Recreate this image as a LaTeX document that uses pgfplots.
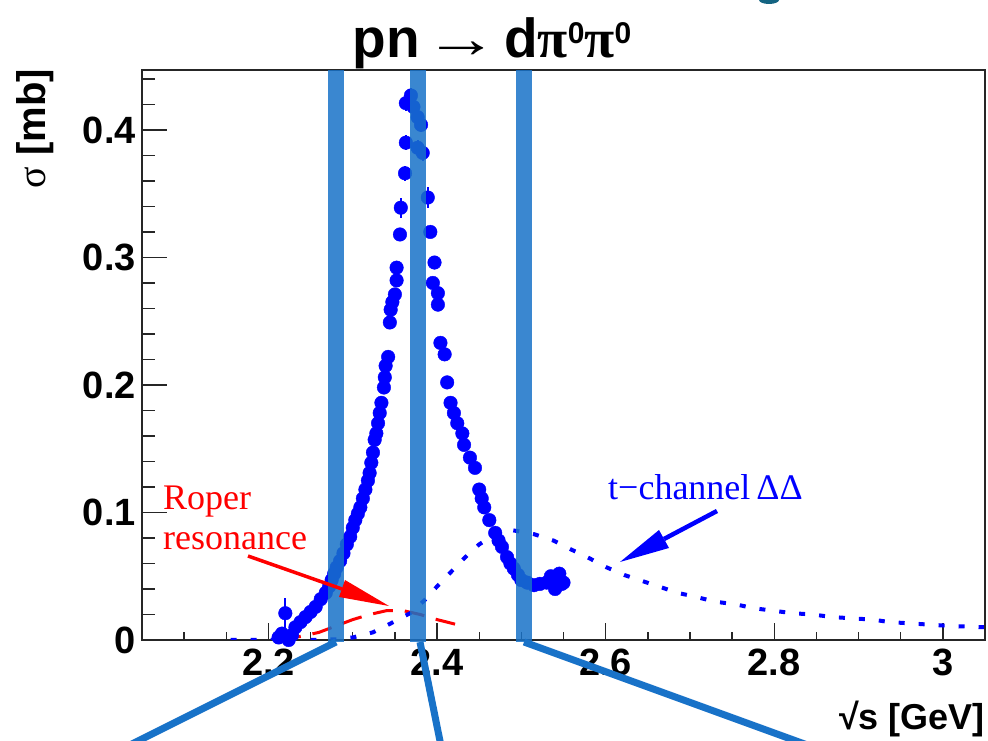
\documentclass[border=0pt]{standalone}
\usepackage{pgfplots}
\usepackage{pgfplotstable}
\pgfplotsset{compat=1.18}
\usepackage{fontspec}
\setmainfont{Liberation Sans}
\newfontfamily\serif{Liberation Serif}
\definecolor{mblue}{RGB}{0,0,255}
\definecolor{mred}{RGB}{255,0,0}
\definecolor{barblue}{RGB}{24,114,200}
\definecolor{tealc}{RGB}{20,100,130}

\pgfplotstableread{
x y e
2.212 0.002 0.003
2.216 0.005 0.003
2.220 0.021 0.012
2.224 0.000 0.003
2.228 0.004 0.003
2.232 0.010 0.003
2.238 0.014 0.003
2.244 0.018 0.003
2.250 0.022 0.003
2.256 0.026 0.003
2.262 0.032 0.003
2.268 0.037 0.003
2.272 0.042 0.003
2.275 0.047 0.003
2.278 0.052 0.003
2.281 0.057 0.003
2.285 0.062 0.003
2.289 0.068 0.003
2.293 0.075 0.003
2.297 0.081 0.003
2.300 0.088 0.003
2.303 0.094 0.003
2.306 0.099 0.003
2.309 0.104 0.003
2.312 0.111 0.003
2.315 0.118 0.003
2.318 0.125 0.003
2.320 0.131 0.003
2.322 0.139 0.003
2.324 0.147 0.003
2.326 0.157 0.003
2.328 0.162 0.003
2.330 0.170 0.003
2.332 0.178 0.003
2.334 0.186 0.004
2.337 0.198 0.004
2.338 0.206 0.004
2.339 0.215 0.004
2.342 0.222 0.004
2.344 0.249 0.004
2.345 0.259 0.004
2.347 0.265 0.004
2.350 0.271 0.004
2.352 0.282 0.004
2.352 0.292 0.005
2.356 0.318 0.005
2.357 0.339 0.008
2.362 0.366 0.006
2.363 0.390 0.006
2.363 0.421 0.006
2.369 0.427 0.006
2.372 0.418 0.006
2.377 0.410 0.006
2.381 0.404 0.006
2.377 0.386 0.006
2.383 0.382 0.006
2.389 0.347 0.008
2.392 0.320 0.005
2.397 0.296 0.005
2.395 0.280 0.005
2.401 0.272 0.005
2.401 0.263 0.005
2.404 0.233 0.004
2.409 0.224 0.004
2.412 0.202 0.004
2.416 0.186 0.004
2.420 0.178 0.004
2.424 0.170 0.004
2.430 0.162 0.004
2.432 0.153 0.004
2.439 0.143 0.003
2.445 0.135 0.003
2.450 0.118 0.003
2.453 0.111 0.003
2.456 0.104 0.003
2.462 0.094 0.003
2.469 0.084 0.003
2.473 0.078 0.003
2.477 0.073 0.003
2.483 0.065 0.003
2.487 0.060 0.003
2.491 0.056 0.003
2.496 0.051 0.003
2.500 0.047 0.003
2.507 0.045 0.003
2.515 0.043 0.003
2.522 0.044 0.003
2.530 0.045 0.003
2.535 0.050 0.003
2.537 0.048 0.003
2.540 0.040 0.003
2.542 0.050 0.004
2.545 0.052 0.003
2.546 0.046 0.003
2.548 0.044 0.003
2.550 0.045 0.003
}\datatable

\pgfplotstableread{
x y
2.215 0.000
2.240 0.003
2.260 0.006
2.280 0.011
2.300 0.016
2.320 0.020
2.340 0.023
2.360 0.023
2.380 0.020
2.400 0.016
2.430 0.011
}\ropertable

\pgfplotstableread{
x y
2.155 0.000
2.190 0.000
2.250 0.000
2.280 0.0005
2.300 0.002
2.324 0.006
2.345 0.013
2.368 0.021
2.385 0.031
2.400 0.042
2.416 0.053
2.432 0.064
2.450 0.075
2.470 0.083
2.490 0.086
2.515 0.083
2.538 0.078
2.559 0.071
2.581 0.064
2.601 0.057
2.622 0.051
2.640 0.047
2.663 0.042
2.685 0.037
2.706 0.034
2.730 0.030
2.754 0.028
2.775 0.025
2.798 0.023
2.822 0.021
2.845 0.020
2.869 0.018
2.892 0.017
2.916 0.016
2.938 0.014
2.962 0.013
2.985 0.012
3.009 0.011
3.050 0.010
}\ttable

\begin{document}
\begin{tikzpicture}
\path[use as bounding box] (0,0) rectangle (988bp,741bp);

\pgfplotsset{common/.style={
  at={(142bp,101bp)}, anchor=south west, scale only axis,
  width=843bp, height=570bp,
  xmin=2.05, xmax=3.05, ymin=0, ymax=0.447,
  axis line style={line width=1.6bp, black!85},
  tick style={line width=1.4bp, black!85},
  tick align=inside,
  /pgf/number format/assume math mode=true,
  ticklabel style={font=\fontsize{38bp}{40bp}\selectfont\bfseries, inner sep=0pt},
}}

\begin{axis}[common,
  xtick={2.2,2.4,2.6,2.8,3.0},
  minor xtick={2.1,2.15,2.25,2.3,2.35,2.45,2.5,2.55,2.65,2.7,2.75,2.85,2.9,2.95,3.05},
  ytick=\empty,
  xtick pos=left,
  major tick length=17bp, minor tick length=8bp,
  xticklabel style={yshift=-9bp},
]
\addplot[mred, line width=3bp, dash pattern=on 20bp off 12bp] table[x=x,y=y] {\ropertable};
\addplot[mblue, line width=4bp, dash pattern=on 6bp off 14bp] table[x=x,y=y] {\ttable};
\addplot[only marks, mark=*, mark size=6.8bp, color=mblue,
  error bars/.cd, y dir=both, y explicit, error mark=none,
  error bar style={line width=2bp, mblue}]
  table[x=x,y=y,y error=e] {\datatable};
\end{axis}

\begin{axis}[common,
  hide x axis,
  ytick={0,0.1,0.2,0.3,0.4},
  minor ytick={0.02,0.04,0.06,0.08,0.12,0.14,0.16,0.18,0.22,0.24,0.26,0.28,0.32,0.34,0.36,0.38,0.42,0.44},
  ytick pos=left,
  major tick length=25bp, minor tick length=13bp,
  yticklabel style={xshift=-6bp},
]
\end{axis}

% overlay bars and lines
\fill[barblue, opacity=0.85] (328bp,671bp) rectangle (344bp,99bp);
\fill[barblue, opacity=0.85] (410bp,671bp) rectangle (426bp,99bp);
\fill[barblue, opacity=0.85] (516bp,671bp) rectangle (532bp,99bp);
\draw[barblue, line width=7bp] (336bp,99bp) -- (128bp,-5bp);
\draw[barblue, line width=7bp] (420bp,99bp) -- (441bp,-5bp);
\draw[barblue, line width=7bp] (524bp,99bp) -- (810bp,-5bp);
\fill[tealc] (769bp,741bp) ellipse (10bp and 4bp);

% title and labels
\node[font=\fontsize{55bp}{58bp}\selectfont\bfseries, inner sep=0pt] at (492bp,698bp)
  {pn\hspace{5bp}\scalebox{1.35}[1]{\serif\mdseries →}\hspace{5bp}d{\serif π}\raisebox{14bp}{\fontsize{30bp}{32bp}\selectfont 0}{\serif π}\raisebox{14bp}{\fontsize{30bp}{32bp}\selectfont 0}};
\node[rotate=90, anchor=east, inner sep=0pt, font=\fontsize{40bp}{44bp}\selectfont\bfseries] at (35bp,672bp)
  {{\serif\mdseries σ} [mb]};
\node[anchor=east, inner sep=0pt, font=\fontsize{36bp}{40bp}\selectfont\bfseries] at (985bp,22bp)
  {√s [GeV]};

% annotations
\node[anchor=base west, inner sep=0pt, text=mred, font=\serif\fontsize{36bp}{40bp}\selectfont] at (163bp,231bp) {Roper};
\node[anchor=base west, inner sep=0pt, text=mred, font=\serif\fontsize{36bp}{40bp}\selectfont] at (163bp,191bp) {resonance};
\draw[mred, line width=3.5bp] (248bp,185bp) -- (342bp,152bp);
\fill[mred] (339bp,144bp) -- (345bp,161bp) -- (389bp,135bp) -- cycle;

\node[anchor=base west, inner sep=0pt, text=mblue, font=\serif\fontsize{36bp}{40bp}\selectfont] at (608bp,241bp) {t−channel\,ΔΔ};
\draw[mblue, line width=4.5bp] (717bp,230bp) -- (664bp,202bp);
\fill[mblue] (669bp,193bp) -- (659bp,211bp) -- (620bp,179bp) -- cycle;
\end{tikzpicture}
\end{document}
